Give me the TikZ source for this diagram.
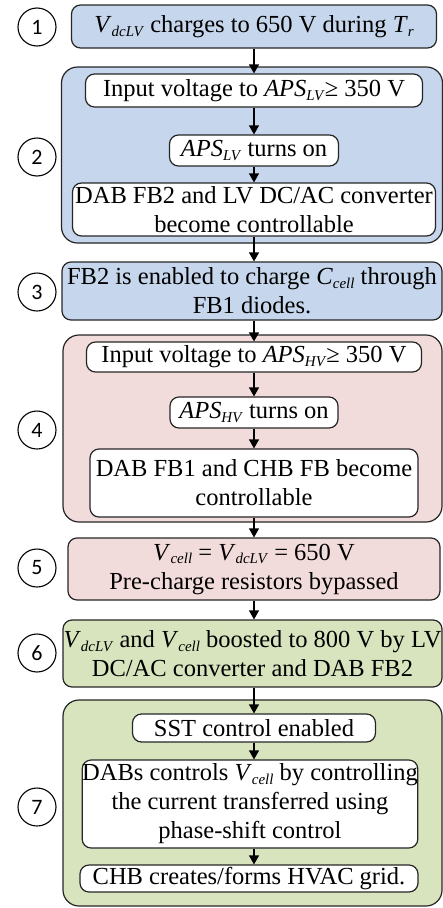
\documentclass[tikz,border=0pt]{standalone}
\usepackage{fontspec}
\setmainfont{Liberation Serif}
\newfontfamily\numfont{Carlito}
\usetikzlibrary{arrows.meta}

\definecolor{stageblue}{HTML}{C6D6EC}
\definecolor{stagepink}{HTML}{F2DCDB}
\definecolor{stagegreen}{HTML}{D7E4BD}
\newcommand{\vsym}[2]{\textit{#1}\raisebox{-0.35ex}{\fontsize{15}{15}\selectfont\textit{#2}}}

\begin{document}
\begin{tikzpicture}[x=1pt,y=-1pt,
    stagebox/.style={draw=black!85, line width=1.2pt, rounded corners=9pt, align=center, inner sep=0pt,
        font=\rmfamily\fontsize{24.5}{29}\selectfont},
    groupbox/.style={draw=black!85, line width=1.2pt, rounded corners=16pt, inner sep=0pt},
    stepnum/.style={circle, draw, line width=1.1pt, minimum size=38pt, inner sep=0pt,
        font=\numfont\fontsize{22}{22}\selectfont},
    flow/.style={-{Triangle[length=9pt,width=10pt]}, line width=1.2pt}]
        \useasboundingbox (0,0) rectangle (443,908);
        % stage groups
        \node[groupbox, fill=stageblue, minimum width=381pt, minimum height=176pt] (grp2) at (252,155){};
        \node[groupbox, fill=stagepink, minimum width=379pt, minimum height=187pt] (grp4) at (252.5,428.5){};
        \node[groupbox, fill=stagegreen, minimum width=379pt, minimum height=206pt] (grp7) at (252.5,803){};
        % boxes
        \node[stagebox, fill=stageblue, minimum width=365pt, minimum height=43pt] (s1) at (254,26.5)
            {\vsym{V}{dcLV} charges to 650 V during \vsym{T}{r}};
        \node[stagebox, fill=white, minimum width=337pt, minimum height=33pt] (s2a) at (254,90.5)
            {Input voltage to \vsym{APS}{LV}≥ 350 V};
        \node[stagebox, fill=white, minimum width=169pt, minimum height=31pt] (s2b) at (254,150.5)
            {\vsym{APS}{LV} turns on};
        \node[stagebox, fill=white, minimum width=363pt, minimum height=53pt] (s2c) at (254,209.5)
            {DAB FB2 and LV DC/AC converter\\become controllable};
        \node[stagebox, fill=stageblue, minimum width=380pt, minimum height=58pt] (s3) at (252,291)
            {FB2 is enabled to charge \vsym{C}{cell} through\\FB1 diodes.};
        \node[stagebox, fill=white, minimum width=335pt, minimum height=30pt] (s4a) at (254,357)
            {Input voltage to \vsym{APS}{HV}≥ 350 V};
        \node[stagebox, fill=white, minimum width=168pt, minimum height=31pt] (s4b) at (254,412.5)
            {\vsym{APS}{HV} turns on};
        \node[stagebox, fill=white, minimum width=328pt, minimum height=68pt] (s4c) at (254,483)
            {DAB FB1 and CHB FB become\\controllable};
        \node[stagebox, fill=stagepink, minimum width=372pt, minimum height=62pt] (s5) at (254,569)
            {\vsym{V}{cell} = \vsym{V}{dcLV} = 650 V\\Pre-charge resistors bypassed};
        \node[stagebox, fill=stagegreen, minimum width=379pt, minimum height=67pt] (s6) at (252.5,653.5)
            {\vsym{V}{dcLV} and \vsym{V}{cell} boosted to 800 V by LV\\DC/AC converter and DAB FB2};
        \node[stagebox, fill=white, minimum width=243pt, minimum height=28pt] (s7a) at (254,728)
            {SST control enabled};
        \node[stagebox, fill=white, minimum width=334pt, minimum height=88pt] (s7b) at (250,804)
            {DABs controls \vsym{V}{cell} by controlling\\the current transferred using\\phase-shift control};
        \node[stagebox, fill=white, minimum width=338pt, minimum height=27pt] (s7c) at (249,878.5)
            {CHB creates/forms HVAC grid.};
        % step numbers
        \node[stepnum] (n1) at (37,27){1};
        \node[stepnum] (n2) at (37,157){2};
        \node[stepnum] (n3) at (37,292){3};
        \node[stepnum] (n4) at (37,430){4};
        \node[stepnum] (n5) at (37,568){5};
        \node[stepnum] (n6) at (37,653){6};
        \node[stepnum] (n7) at (37,807){7};
        % arrows
        \draw[flow] (s1.south -| s2a) -- (s2a.north);
        \draw[flow] (s2a.south) -- (s2b.north);
        \draw[flow] (s2b.south) -- (s2b.south |- s2c.north);
        \draw[flow] (s2b.south |- s2c.south) -- (s2b.south |- s3.north);
        \draw[flow] (s2b.south |- s3.south) -- (s4a.north);
        \draw[flow] (s4a.south) -- (s4b.north);
        \draw[flow] (s4b.south) -- (s4c.north);
        \draw[flow] (s4c.south) -- (s5.north);
        \draw[flow] (s5.south) -- (s5.south |- s6.north);
        \draw[flow] (s5.south |- s6.south) -- (s7a.north);
        \draw[flow] (s7a.south) -- (s7a.south |- s7b.north);
        \draw[flow] (s7a.south |- s7b.south) -- (s7a.south |- s7c.north);
    \end{tikzpicture}
\end{document}
